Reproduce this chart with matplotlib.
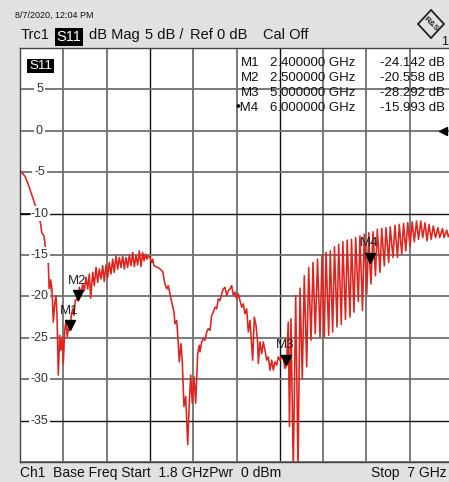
import matplotlib
matplotlib.use("Agg")
import matplotlib.pyplot as plt
from matplotlib.patches import Rectangle, Polygon
from matplotlib.transforms import offset_copy

plt.rcParams["font.family"] = ["Liberation Sans", "DejaVu Sans"]

# S11 trace (GHz, dB)
freq_ghz = [
    1.800, 1.860, 1.900, 1.940, 1.980, 2.020, 2.049, 2.061, 2.088, 2.100,
    2.112, 2.124, 2.140, 2.152, 2.169, 2.184, 2.200, 2.217, 2.232, 2.244,
    2.260, 2.277, 2.292, 2.308, 2.320, 2.337, 2.352, 2.368, 2.385, 2.400,
    2.416, 2.433, 2.448, 2.464, 2.481, 2.500, 2.512, 2.533, 2.553, 2.572,
    2.593, 2.613, 2.632, 2.649, 2.673, 2.692, 2.713, 2.733, 2.752, 2.773,
    2.793, 2.812, 2.833, 2.853, 2.872, 2.893, 2.913, 2.932, 2.953, 2.973,
    2.992, 3.013, 3.033, 3.053, 3.073, 3.093, 3.113, 3.133, 3.153, 3.173,
    3.193, 3.213, 3.233, 3.253, 3.273, 3.289, 3.310, 3.325, 3.341, 3.361,
    3.382, 3.394, 3.409, 3.433, 3.473, 3.514, 3.541, 3.562, 3.581, 3.622,
    3.649, 3.661, 3.682, 3.701, 3.713, 3.733, 3.749, 3.769, 3.790, 3.814,
    3.833, 3.850, 3.869, 3.890, 3.910, 3.934, 3.953, 3.962, 3.982, 4.001,
    4.022, 4.042, 4.061, 4.082, 4.102, 4.121, 4.142, 4.162, 4.181, 4.202,
    4.222, 4.241, 4.262, 4.282, 4.302, 4.322, 4.342, 4.362, 4.382, 4.402,
    4.422, 4.442, 4.462, 4.482, 4.502, 4.522, 4.542, 4.562, 4.594, 4.614,
    4.634, 4.655, 4.662, 4.682, 4.703, 4.722, 4.742, 4.763, 4.782, 4.802,
    4.823, 4.842, 4.862, 4.883, 4.902, 4.922, 4.943, 4.962, 4.982, 5.000,
    5.022, 5.036, 5.054, 5.082, 5.111, 5.139, 5.163, 5.190, 5.214, 5.243,
    5.267, 5.295, 5.319, 5.346, 5.373, 5.403, 5.427, 5.454, 5.475, 5.507,
    5.526, 5.555, 5.577, 5.607, 5.627, 5.659, 5.677, 5.709, 5.729, 5.763,
    5.781, 5.811, 5.831, 5.863, 5.883, 5.913, 5.934, 5.964, 5.989, 6.000,
    6.015, 6.039, 6.069, 6.091, 6.123, 6.144, 6.175, 6.195, 6.228, 6.246,
    6.279, 6.303, 6.333, 6.355, 6.384, 6.406, 6.433, 6.456, 6.484, 6.510,
    6.535, 6.562, 6.586, 6.613, 6.636, 6.664, 6.688, 6.712, 6.738, 6.763,
    6.790, 6.820, 6.840, 6.874, 6.892, 6.925, 6.943, 6.970, 7.000,
]
s11_db = [
    -4.8, -5.5, -6.5, -7.7, -8.9, -10.1, -11.3, -12.3, -12.7, -13.7,
    -14.6, -14.4, -16.1, -19.7, -18.0, -19.1, -23.1, -20.9, -19.9, -22.1,
    -29.5, -24.7, -26.5, -24.9, -28.1, -24.1, -22.9, -24.9, -23.5, -24.142,
    -22.3, -21.5, -22.3, -20.5, -20.3, -20.558, -18.9, -19.7, -18.5, -19.3,
    -17.7, -19.1, -17.3, -20.2, -17.1, -18.7, -16.5, -18.3, -16.7, -17.9,
    -16.3, -18.2, -16.2, -17.7, -15.9, -17.3, -15.5, -17.1, -15.1, -16.7,
    -15.3, -16.5, -15.1, -16.7, -15.3, -16.5, -15.0, -16.3, -14.7, -16.4,
    -15.1, -16.2, -14.5, -16.4, -14.7, -15.7, -14.9, -15.5, -15.1, -15.3,
    -15.9, -15.5, -16.3, -16.4, -16.6, -17.0, -18.5, -19.1, -18.7, -20.7,
    -21.9, -23.3, -22.9, -25.7, -27.9, -25.7, -27.9, -33.3, -32.1, -37.9,
    -32.9, -29.5, -32.9, -29.7, -32.9, -26.9, -25.9, -26.7, -25.5, -25.1,
    -25.3, -24.3, -23.9, -24.1, -22.3, -21.9, -21.3, -21.5, -20.3, -20.5,
    -19.7, -19.1, -18.9, -19.9, -19.3, -19.1, -18.7, -19.9, -19.5, -20.3,
    -19.7, -20.5, -21.3, -20.9, -22.1, -21.5, -24.3, -22.9, -27.7, -22.5,
    -23.5, -25.7, -28.1, -25.5, -26.9, -25.5, -26.5, -27.7, -27.3, -28.9,
    -27.7, -28.9, -27.9, -28.3, -27.3, -27.7, -27.2, -27.5, -28.7, -28.292,
    -23.1, -35.7, -22.7, -41.0, -19.9, -41.0, -19.0, -29.9, -17.5, -28.5,
    -16.5, -25.3, -15.9, -24.5, -15.5, -24.9, -15.0, -24.9, -14.7, -24.7,
    -14.5, -24.3, -14.0, -23.7, -13.7, -23.4, -13.4, -22.8, -13.2, -22.5,
    -13.1, -21.9, -12.9, -20.6, -12.7, -21.7, -12.5, -19.7, -12.3, -15.993,
    -18.5, -12.2, -17.5, -11.9, -17.1, -11.8, -16.3, -11.7, -15.9, -11.6,
    -15.3, -11.4, -15.3, -11.3, -14.9, -11.2, -14.5, -11.1, -14.0, -11.0,
    -13.4, -10.9, -13.1, -10.9, -12.9, -11.1, -13.3, -11.3, -13.1, -11.5,
    -12.9, -11.7, -12.9, -11.8, -12.9, -12.0, -12.8, -12.2, -12.6,
]

marker_names = ["M1", "M2", "M3", "M4"]
marker_freq = [2.4, 2.5, 5.0, 6.0]
marker_db = [-24.142, -20.558, -28.292, -15.993]
marker_freq_text = ["2.400000 GHz", "2.500000 GHz", "5.000000 GHz", "6.000000 GHz"]
marker_db_text = ["-24.142 dB", "-20.558 dB", "-28.292 dB", "-15.993 dB"]

y_labels = [5, 0, -5, -10, -15, -20, -25, -30, -35]

W, H = 449, 482
BG = "#e1e1e1"
fig = plt.figure(figsize=(W / 100, H / 100), dpi=100, facecolor=BG)


def fx(px):
    return px / W


def fy(py):
    return 1 - py / H


# plot area runs past the right edge like the screenshot
ax = fig.add_axes([fx(20), fy(462), 433 / W, 414 / H])
ax.set_xlim(1.8, 7.0)
ax.set_ylim(-40, 10)
ax.set_facecolor("white")
ax.set_xticks([])
ax.set_yticks([])
for s in ax.spines.values():
    s.set_color("#444444")
    s.set_linewidth(1.0)

for k in range(11):
    xv = 1.8 + 0.52 * k
    dark = k in (3, 6)
    ax.axvline(xv, color="#111111" if dark else "#707070", lw=1.0 if dark else 1.3, zorder=1)
for yv in range(-40, 11, 5):
    dark = yv in (-10, -35)
    ax.axhline(yv, color="#111111" if dark else "#707070", lw=1.0 if dark else 1.3, zorder=1)

ytr = ax.get_yaxis_transform()
for v in y_labels:
    ax.text(0.045, v, str(v), transform=ytr, ha="center", va="center", fontsize=9,
            color="#333333", zorder=3,
            bbox=dict(facecolor="white", edgecolor="none", pad=1.2))
ax.plot([0, 0.024], [-10, -10], transform=ytr, color="black", lw=1.2, zorder=4)
ax.plot([0.978], [0], transform=ytr, marker="<", ms=6, color="black",
        clip_on=False, zorder=5)

ax.plot(freq_ghz, s11_db, color="#e0231c", lw=1.15, zorder=2)

# marker triangles with their labels
tri_tr = offset_copy(ax.transData, fig=fig, x=0, y=4, units="points")
for name, f, d in zip(marker_names, marker_freq, marker_db):
    ax.plot([f], [d], marker="v", ms=7, color="black", transform=tri_tr, zorder=6)
    ax.annotate(name, (f, d), xytext=(-1, 20), textcoords="offset pixels",
                ha="center", va="center", fontsize=9.5, color="#222222", zorder=6)

# S11 badge inside plot
ax.add_patch(Rectangle((fx(27), fy(73)), fx(27), 14 / H, transform=fig.transFigure,
                       facecolor="black", edgecolor="none", zorder=5))
fig.text(fx(40.5), fy(66), "S11", color="white", fontsize=9.5, ha="center", va="center", zorder=6)

# marker table
rows_y = [63, 78, 93, 108]
for i, ry in enumerate(rows_y):
    name = ("\u2022" if i == 3 else "") + marker_names[i]
    fig.text(fx(259), fy(ry), name, fontsize=9.5, ha="right", va="center", color="#111111")
    fig.text(fx(270), fy(ry), marker_freq_text[i], fontsize=9.5, ha="left", va="center", color="#111111")
    fig.text(fx(380), fy(ry), marker_db_text[i], fontsize=9.5, ha="left", va="center", color="#111111")

# header
fig.text(fx(15), fy(15.5), "8/7/2020, 12:04 PM", fontsize=6.5, va="center", color="#111111")
fig.text(fx(20.5), fy(35), "Trc1", fontsize=10.5, va="center", color="#111111")
fig.patches.append(Rectangle((fx(55), fy(46)), fx(27.7), 17.7 / H, transform=fig.transFigure,
                             facecolor="black", edgecolor="none"))
fig.text(fx(68.8), fy(37), "S11", fontsize=10.5, ha="center", va="center", color="white")
fig.text(fx(89), fy(35), "dB Mag", fontsize=10.5, va="center", color="#111111")
fig.text(fx(145), fy(35), "5 dB /", fontsize=10.5, va="center", color="#111111")
fig.text(fx(190), fy(35), "Ref 0 dB", fontsize=10.5, va="center", color="#111111")
fig.text(fx(263), fy(35), "Cal Off", fontsize=10.5, va="center", color="#111111")

# R&S logo
cx, cy = 431, 24
diamond = [(cx, cy - 14), (cx + 13, cy), (cx, cy + 14), (cx - 13, cy)]
fig.patches.append(Polygon([(fx(a), fy(b)) for a, b in diamond], closed=True,
                           transform=fig.transFigure, facecolor="none",
                           edgecolor="#222222", lw=1.3))
fig.text(fx(cx), fy(cy), "R&S", fontsize=6, ha="center", va="center", rotation=-45,
         color="#222222", fontweight="bold")
fig.text(fx(445), fy(42), "1", fontsize=9, ha="center", va="center", color="#111111")

# footer
fig.text(fx(20.5), fy(473.5), "Ch1  Base Freq Start  1.8 GHzPwr  0 dBm", fontsize=10,
         va="center", color="#111111")
fig.text(fx(447), fy(473.5), "Stop  7 GHz", fontsize=10, ha="right", va="center", color="#111111")

fig.savefig("out.png", dpi=100, facecolor=BG)
